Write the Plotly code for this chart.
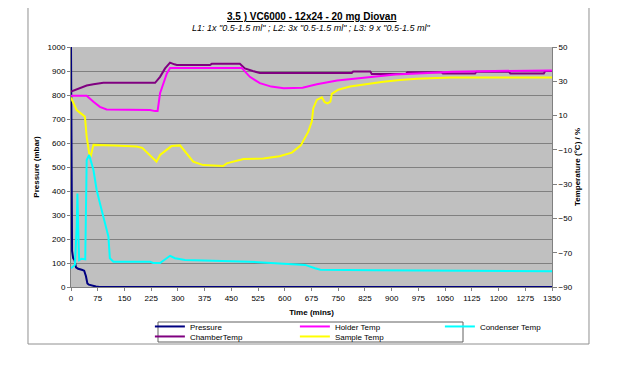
import plotly.graph_objects as go

# ---- data ----
# Pressure (mbar), left axis
t_pressure = [0, 1, 3, 6, 10, 14, 20, 30, 37, 42, 46, 50, 60, 70, 80, 1350]
pressure = [1000, 600, 150, 120, 112, 82, 76, 72, 68, 45, 15, 10, 5, 2, 0, 0]

# Temperatures (deg C), right axis
t_chamber = [0, 10, 25, 44, 63, 91, 236, 250, 264, 278, 290, 297, 390, 395, 474, 488, 510, 530,
             788, 792, 840, 844, 940, 944, 1040, 1044, 1134, 1138, 1229, 1233, 1327, 1331, 1350]
chamber = [24.0, 24.8, 25.9, 27.5, 28.3, 29.1, 29.1, 32.6, 37.5, 40.9, 39.9, 39.5, 39.5, 40.2, 40.2, 37.5, 36.0, 34.9,
           34.9, 35.7, 35.7, 34.3, 34.3, 35.3, 35.3, 34.5, 34.5, 35.6, 35.6, 34.6, 34.6, 36.0, 36.0]

t_holder = [0, 44, 63, 81, 100, 222, 236, 243, 250, 269, 278, 479, 502, 530, 562, 597, 650, 690,
            747, 793, 840, 910, 1002, 1071, 1187, 1350]
holder = [21.6, 21.6, 18.1, 15.1, 13.6, 13.3, 12.6, 12.6, 23.0, 34.6, 37.8, 37.8, 32.6, 28.9, 26.9, 25.9, 26.2, 28.3,
          30.4, 31.4, 32.8, 33.9, 34.9, 35.6, 36.0, 36.3]

t_sample = [0, 2, 16, 35, 39, 44, 51, 55, 63, 120, 184, 200, 222, 240, 250, 269, 282, 306, 325, 343,
            371, 427, 437, 484, 540, 585, 620, 645, 666, 676, 680, 690, 704, 712, 720, 728, 732, 750, 783, 840,
            877, 923, 970, 1064, 1350]
sample = [20.6, 19.5, 13.2, 10.4, 9.4, -2.4, -12.0, -14.0, -7.1, -7.4, -8.1, -8.8, -13.0, -16.9, -13.0, -10.1, -7.8, -7.4, -12.0, -16.9,
          -18.9, -19.4, -17.9, -15.4, -15.1, -13.7, -11.6, -7.4, 0.6, 6.6, 14.3, 19.1, 20.6, 17.8, 17.1, 18.1, 22.7, 25.1, 26.9, 28.7,
          29.7, 30.7, 31.5, 32.2, 32.2]

t_condenser = [0, 11, 16, 18, 21, 23, 30, 40, 44, 51, 63, 72, 81, 95, 105, 109, 119, 222, 231, 250,
               260, 278, 292, 320, 500, 557, 657, 685, 700, 850, 1350]
condenser = [-79.1, -77.1, -55.0, -35.4, -62.0, -74.3, -73.5, -73.9, -15.9, -13.0, -21.8, -33.4, -41.0, -52.8, -60.6, -73.2, -75.3, -75.3, -76.0, -76.0,
             -74.6, -71.8, -73.2, -74.3, -75.2, -76.0, -77.1, -79.1, -79.9, -80.2, -80.8]

x_ticks = list(range(0, 1351, 75))

FONT = "Liberation Sans, Arial, sans-serif"

fig = go.Figure()
fig.add_trace(go.Scatter(x=t_pressure, y=pressure, name="Pressure", mode="lines",
                         line=dict(color="#000080", width=2), yaxis="y", legend="legend"))
fig.add_trace(go.Scatter(x=t_chamber, y=chamber, name="ChamberTemp", mode="lines",
                         line=dict(color="#800080", width=2), yaxis="y2", legend="legend2"))
fig.add_trace(go.Scatter(x=t_holder, y=holder, name="Holder Temp", mode="lines",
                         line=dict(color="#ff00ff", width=2), yaxis="y2", legend="legend"))
fig.add_trace(go.Scatter(x=t_sample, y=sample, name="Sample Temp", mode="lines",
                         line=dict(color="#ffff00", width=2), yaxis="y2", legend="legend2"))
fig.add_trace(go.Scatter(x=t_condenser, y=condenser, name="Condenser Temp", mode="lines",
                         line=dict(color="#00ffff", width=2), yaxis="y2", legend="legend"))

leg_common = dict(orientation="h", xanchor="left", yanchor="top",
                  entrywidth=100, entrywidthmode="pixels", bgcolor="rgba(0,0,0,0)", borderwidth=0,
                  font=dict(size=8), tracegroupgap=0, itemwidth=30, traceorder="normal")

# page body adds an 8px offset, so margins are reduced by 8px on the left/top
fig.update_layout(
    width=639, height=369,
    margin=dict(l=63, r=95, t=39, b=90, autoexpand=False),
    paper_bgcolor="white",
    plot_bgcolor="#c0c0c0",
    font=dict(family=FONT, size=8, color="black"),
    showlegend=True,
    legend=dict(x=0.164, y=-0.104, **leg_common),
    legend2=dict(x=0.164, y=-0.1457, **leg_common),
    xaxis=dict(range=[0, 1350], tickvals=x_ticks, ticks="outside", ticklen=3, tickcolor="#808080",
               showline=True, linecolor="#808080", showgrid=False, zeroline=False,
               title=dict(text="<b>Time (mins)</b>", font=dict(size=8), standoff=7)),
    yaxis=dict(range=[0, 1000], dtick=100, ticks="outside", ticklen=3, tickcolor="#808080",
               showline=True, linecolor="#808080", showgrid=True, gridcolor="#808080", gridwidth=1,
               zeroline=False,
               title=dict(text="<b>Pressure (mbar)</b>", font=dict(size=8), standoff=6)),
    yaxis2=dict(range=[-90, 50], tick0=-90, dtick=20, overlaying="y", side="right",
                ticks="outside", ticklen=4, tickcolor="#808080", showline=True, linecolor="#808080",
                showgrid=False, zeroline=False,
                title=dict(text="<b>Temperature (°C) / %</b>", font=dict(size=8), standoff=1)),
    shapes=[
        dict(type="rect", xref="paper", yref="paper", x0=-0.0894, x1=1.0769, y0=-0.2375, y1=1.1833,
             line=dict(color="#909090", width=1), fillcolor="rgba(0,0,0,0)", layer="below"),
        dict(type="rect", xref="paper", yref="paper", x0=(158 - 71) / 481, x1=(463 - 71) / 481,
             y0=(287 - 342) / 240, y1=(287 - 322) / 240,
             line=dict(color="#606060", width=1), fillcolor="rgba(0,0,0,0)", layer="below"),
    ],
    annotations=[
        dict(text="<b><u>3.5 ) VC6000 - 12x24 - 20 mg Diovan</u></b>", xref="paper", yref="paper",
             x=0.5, y=1.129, xanchor="center", yanchor="middle", showarrow=False, font=dict(size=10)),
        dict(text="<i>L1: 1x \"0.5-1.5 ml\" ; L2: 3x \"0.5-1.5 ml\" ; L3: 9 x \"0.5-1.5 ml\"</i>",
             xref="paper", yref="paper", x=0.5, y=1.079, xanchor="center", yanchor="middle",
             showarrow=False, font=dict(size=9)),
    ],
)

fig.write_html("out.html")
